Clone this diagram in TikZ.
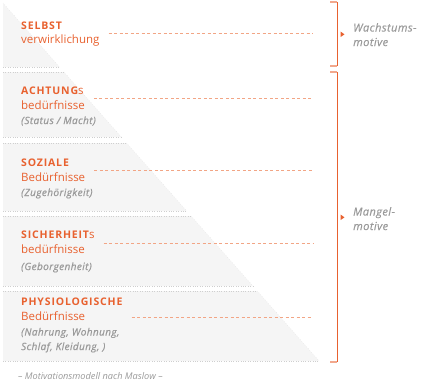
\documentclass[tikz,border=0pt]{standalone}
\usepackage{fontspec}
\setmainfont{Open Sans}
\definecolor{maslow}{HTML}{E8612F}
\definecolor{leadcol}{HTML}{F2A585}
\definecolor{notegray}{HTML}{9A9A9A}
\definecolor{layerfill}{HTML}{F5F5F5}
\definecolor{edgegray}{HTML}{CFCFCF}
\newcommand{\spacedcaps}[1]{{\fontsize{10.5}{14.5}\selectfont\bfseries\addfontfeatures{LetterSpace=8}#1}}

\begin{document}
\begin{tikzpicture}[x=1pt, y=-1pt,
    head/.style={anchor=base west, inner sep=0pt, align=left, text=maslow,
      font=\fontsize{11.5}{14.5}\selectfont},
    note/.style={anchor=base west, inner sep=0pt, align=left, text=notegray,
      font=\fontsize{10}{14.5}\selectfont\itshape\addfontfeatures{LetterSpace=4,FakeBold=0.6}},
    side/.style={anchor=base west, inner sep=0pt, align=left, text=notegray,
      font=\fontsize{11}{14.5}\selectfont\itshape\addfontfeatures{LetterSpace=4,FakeBold=0.4}},
    lead/.style={leadcol, line width=1pt, dash pattern=on 3pt off 2.5pt},
    brace/.style={maslow, line width=0.8pt},
    bracetick/.style={maslow!55, line width=1.2pt}]
  \useasboundingbox (0,0) rectangle (421,381);

  % pyramid layers
  \foreach \t/\b in {3/67,72/137,143/211,216/286,291/361}{
    \fill[layerfill] (3,\t) -- ({3+0.883*(\t-3)},\t) -- ({3+0.883*(\b-3)},\b) -- (3,\b) -- cycle;
    \draw[edgegray, dotted] (3,\t) -- ({3+0.883*(\t-3)},\t);
    \draw[edgegray, dotted] (3,\b) -- ({3+0.883*(\b-3)},\b);
    \draw[edgegray!70, dotted] ({3+0.883*(\t-3)},\t) -- ({3+0.883*(\b-3)},\b);
  }

  % level texts (base = last line)
  \node[head] (selbst) at (21,43.5) {\spacedcaps{SELBST}\\verwirklichung};
  \node[head] (achtung) at (21,109) {\spacedcaps{ACHTUNG}s\\bedürfnisse};
  \node[note] (achtungnote) at (21,124) {(Status / Macht)};
  \node[head] (sozial) at (21,181) {\spacedcaps{SOZIALE}\\Bedürfnisse};
  \node[note] (sozialnote) at (21,196) {(Zugehörigkeit)};
  \node[head] (sicher) at (21,253) {\spacedcaps{SICHERHEIT}s\\bedürfnisse};
  \node[note] (sichernote) at (21,270) {(Geborgenheit)};
  \node[head] (physio) at (21,320) {\spacedcaps{PHYSIOLOGISCHE}\\Bedürfnisse};
  \node[note] (physionote) at (21,350) {(Nahrung, Wohnung,\\Schlaf, Kleidung, )};
  \node[note, font=\fontsize{9.2}{10}\selectfont\itshape] (caption) at (18,379)
    {– Motivationsmodell nach Maslow –};

  % dashed leaders
  \coordinate (leadend) at (313,0);
  \foreach \lvl/\dy in {selbst/0,achtung/0,sozial/0,sicher/-1.5,physio/-8}
    \draw[lead] ([xshift=9pt,yshift=\dy pt]\lvl.east) -- ([yshift=\dy pt]\lvl.east -| leadend);

  % brackets
  \coordinate (wtop) at (337,2);
  \coordinate (wbot) at (337,66);
  \coordinate (mtop) at (337,72);
  \coordinate (mbot) at (337,362);
  \draw[brace] (wtop) -- (wbot);
  \draw[brace] (mtop) -- (mbot);
  \foreach \c in {wtop,wbot,mtop,mbot}
    \draw[bracetick] (\c) -- ++(-7,0);

  \node[side] (wachs) at (353,46) {Wachstums-\\motive};
  \node[side] (mangel) at (353,230) {Mangel-\\motive};
  \fill[maslow] (340.5,31.5) -- (344.5,34.3) -- (340.5,37.1) -- cycle;
  \fill[maslow] (340.5,214.5) -- (344.5,217.3) -- (340.5,220.1) -- cycle;
\end{tikzpicture}
\end{document}
